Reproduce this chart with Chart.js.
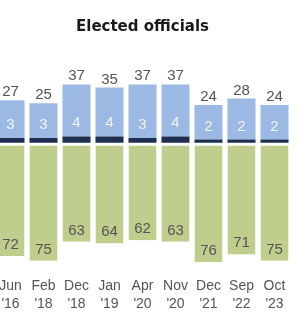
<!DOCTYPE html>
<html>
<head>
<meta charset="utf-8">
<script src="https://cdn.jsdelivr.net/npm/chart.js@4"></script>
<style>
  html, body { margin: 0; padding: 0; background: #fff; overflow: hidden; }
  body { width: 308px; height: 318px; position: relative; }
  #wrap { position: absolute; left: -6px; top: 0; width: 297px; height: 319px; }
</style>
</head>
<body>
<div id="wrap"><canvas id="chart"></canvas></div>
<script>
// Survey dates (two-line tick labels)
const surveyDates = [
  ['Jun', "'16"], ['Feb', "'18"], ['Dec', "'18"], ['Jan', "'19"], ['Apr', "'20"],
  ['Nov', "'20"], ['Dec', "'21"], ['Sep', "'22"], ['Oct', "'23"]
];

// Confidence in elected officials, %
const greatDeal = [3, 3, 4, 4, 3, 4, 2, 2, 2];
const totalConfidence = [27, 25, 37, 35, 37, 37, 24, 28, 24];
const noConfidence = [72, 75, 63, 64, 62, 63, 76, 71, 75];

// light blue part = total minus the "great deal" part
const fairAmount = totalConfidence.map((t, i) => t - greatDeal[i]);

const labelFont = '15px "Liberation Sans", Arial, sans-serif';

// Draws title and the value labels next to the bars
const labelsPlugin = {
  id: 'labels',
  afterDatasetsDraw(chart) {
    const ctx = chart.ctx;
    const area = chart.chartArea;
    const darkMeta = chart.getDatasetMeta(0);
    const lightMeta = chart.getDatasetMeta(1);
    const greenMeta = chart.getDatasetMeta(2);

    ctx.save();
    ctx.textAlign = 'center';
    ctx.textBaseline = 'alphabetic';

    // title
    ctx.fillStyle = '#1a1a1a';
    ctx.font = 'bold 15px "DejaVu Sans", sans-serif';
    ctx.fillText('Elected officials', (area.left + area.right) / 2, 31);

    ctx.font = labelFont;
    surveyDates.forEach((d, i) => {
      const dark = darkMeta.data[i];
      const light = lightMeta.data[i];
      const green = greenMeta.data[i];

      // total above the blue bar
      ctx.fillStyle = '#555';
      ctx.fillText(totalConfidence[i], light.x, light.y - 4);

      // "great deal" value inside the light blue part
      ctx.fillStyle = '#f2f5fb';
      ctx.fillText(greatDeal[i], dark.x, dark.y - 9);

      // no confidence value at bottom of green bar
      ctx.fillStyle = '#555';
      ctx.fillText(noConfidence[i], green.x, green.y - 7);
    });
    ctx.restore();
  }
};

new Chart(document.getElementById('chart'), {
  type: 'bar',
  data: {
    labels: surveyDates,
    datasets: [
      {
        label: 'A great deal',
        data: greatDeal,
        backgroundColor: '#1f2f52',
        borderWidth: 0
      },
      {
        label: 'A fair amount',
        data: fairAmount,
        backgroundColor: '#9bb9e2',
        borderWidth: 0
      },
      {
        label: 'Not too much/no confidence',
        data: noConfidence.map(v => -v),
        backgroundColor: '#bfcd8d',
        borderColor: '#ffffff',
        borderWidth: { top: 3, right: 0, bottom: 0, left: 0 },
        borderSkipped: false
      }
    ]
  },
  options: {
    responsive: true,
    maintainAspectRatio: false,
    animation: false,
    layout: { padding: { top: 64, bottom: 6, left: 0, right: 0 } },
    datasets: {
      bar: { barPercentage: 0.85, categoryPercentage: 1 }
    },
    scales: {
      x: {
        stacked: true,
        grid: { display: false },
        border: { display: false },
        ticks: {
          color: '#555',
          font: { family: '"Liberation Sans", Arial, sans-serif', size: 14, lineHeight: 1.3 },
          padding: 0,
          maxRotation: 0,
          autoSkip: false
        }
      },
      y: {
        stacked: true,
        display: false,
        min: -80,
        max: 50
      }
    },
    plugins: {
      legend: { display: false },
      tooltip: { enabled: false },
      title: { display: false }
    }
  },
  plugins: [labelsPlugin]
});
</script>
</body>
</html>
